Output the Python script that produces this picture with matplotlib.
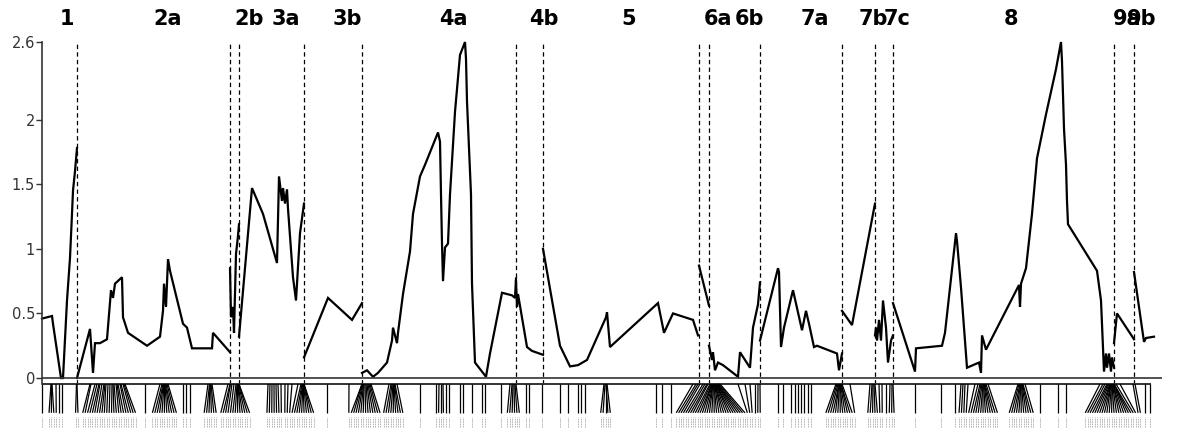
import matplotlib
matplotlib.use("Agg")
import matplotlib.pyplot as plt
from matplotlib.collections import LineCollection
import numpy as np

# linkage groups and their lengths (cM, laid end to end)
chrom_names = ["1", "2a", "2b", "3a", "3b", "4a", "4b", "5", "6a", "6b",
               "7a", "7b", "7c", "8", "9a", "9b"]
chrom_lengths = [35, 153, 9, 65, 58, 154, 27, 156, 10, 51, 82, 33, 18, 221, 20, 21]

# LOD profile per group: (cumulative position, LOD)
lod_1 = [(0, 0.46), (10, 0.48), (11, 0.42), (19, 0.0), (21, 0.0), (25, 0.6),
         (28, 0.93), (30, 1.27), (31, 1.45), (33, 1.6), (35, 1.78)]
lod_2a = [(35, 0.0), (48, 0.38), (51, 0.04), (53, 0.27), (58, 0.27), (65, 0.3),
          (69, 0.68), (71, 0.62), (73, 0.73), (80, 0.78), (81, 0.47), (86, 0.35),
          (105, 0.25), (118, 0.32), (121, 0.52), (122, 0.73), (124, 0.55),
          (126, 0.92), (128, 0.83), (141, 0.42), (145, 0.39), (150, 0.23),
          (170, 0.23), (171, 0.35), (188, 0.2)]
lod_2b = [(188, 0.85), (189, 0.47), (191, 0.55), (192, 0.35), (194, 0.96),
          (196, 1.1), (197, 1.19)]
lod_3a = [(197, 0.32), (210, 1.47), (221, 1.27), (235, 0.89), (237, 1.56),
          (240, 1.37), (241, 1.47), (243, 1.35), (245, 1.46), (246, 1.31),
          (251, 0.78), (254, 0.6), (258, 1.12), (262, 1.35)]
lod_3b = [(262, 0.16), (286, 0.62), (310, 0.45), (320, 0.58)]
lod_4a = [(320, 0.04), (325, 0.06), (331, 0.01), (336, 0.04), (345, 0.12),
          (350, 0.29), (351, 0.39), (355, 0.27), (356, 0.35), (361, 0.65),
          (368, 0.98), (371, 1.27), (378, 1.56), (383, 1.65), (396, 1.9),
          (398, 1.83), (399, 1.42), (400, 1.04), (401, 0.75), (403, 1.01),
          (406, 1.04), (408, 1.42), (413, 2.06), (418, 2.5), (423, 2.6),
          (424, 2.47), (425, 2.14), (427, 1.78), (429, 1.42), (430, 0.73),
          (433, 0.12), (444, 0.01), (448, 0.19), (460, 0.66), (470, 0.64),
          (473, 0.62), (474, 0.77)]
lod_4b = [(474, 0.75), (475, 0.55), (476, 0.65), (485, 0.24), (490, 0.21), (501, 0.18)]
lod_5 = [(501, 1.0), (518, 0.25), (528, 0.09), (536, 0.1), (545, 0.14), (564, 0.47),
         (565, 0.51), (568, 0.24), (616, 0.58), (622, 0.35), (631, 0.5),
         (651, 0.45), (656, 0.33)]
lod_6a = [(657, 0.87), (667, 0.56)]
lod_6b = [(667, 0.25), (670, 0.14), (671, 0.2), (673, 0.06), (676, 0.12),
          (681, 0.1), (696, 0.01), (698, 0.2), (708, 0.08), (711, 0.39),
          (716, 0.57), (718, 0.74)]
lod_7a = [(718, 0.29), (736, 0.85), (737, 0.82), (739, 0.24), (742, 0.39),
          (751, 0.68), (760, 0.37), (764, 0.52), (767, 0.42), (772, 0.24),
          (775, 0.25), (795, 0.19), (797, 0.06), (800, 0.19)]
lod_7b = [(800, 0.52), (810, 0.41), (832, 1.31), (833, 1.35)]
lod_7c = [(833, 0.33), (834, 0.39), (835, 0.29), (837, 0.45), (839, 0.29),
          (841, 0.6), (844, 0.39), (846, 0.12), (849, 0.29), (851, 0.33)]
lod_8 = [(851, 0.58), (873, 0.05), (874, 0.23), (900, 0.25), (903, 0.35),
         (914, 1.12), (915, 1.06), (919, 0.7), (925, 0.08), (937, 0.12),
         (939, 0.04), (940, 0.33), (944, 0.22), (977, 0.72), (978, 0.55),
         (979, 0.73), (984, 0.85), (990, 1.27), (995, 1.7), (1004, 2.04),
         (1014, 2.39), (1019, 2.6), (1020, 2.45), (1021, 2.19), (1022, 1.93),
         (1024, 1.65), (1025, 1.37), (1026, 1.19), (1055, 0.83), (1059, 0.6),
         (1062, 0.05), (1064, 0.19), (1065, 0.08), (1067, 0.19), (1069, 0.05),
         (1070, 0.16), (1072, 0.08)]
lod_9a = [(1072, 0.27), (1075, 0.5), (1092, 0.3)]
lod_9b = [(1092, 0.82), (1102, 0.28), (1104, 0.31), (1112, 0.32)]

# marker positions (cumulative cM)
markers_1 = [0, 9, 9.5, 10, 14, 17, 19.5, 34.5, 35]
markers_2a = [48, 49, 53, 55, 57, 58, 60, 62, 63, 64, 66, 68, 70, 71, 72, 74, 75,
              76, 78, 79, 81, 82, 83, 103, 118, 120, 121, 121.5, 122, 122.5, 123,
              123.5, 124, 125, 126, 141, 144, 148, 166, 167.5, 168, 168.5, 169,
              170, 186, 188]
markers_2b = [188.5, 190, 192, 194, 195, 195.5, 196, 196, 196.5, 197, 197]
markers_3a = [226, 228, 230, 232, 234, 236, 239, 243, 246, 250, 256, 259, 260,
              260.5, 261, 261.2, 261.5, 261.8, 262, 262]
markers_3b = [285, 307]
markers_4a = [320, 320, 320.5, 321, 321.5, 322, 323, 324, 325, 326, 327, 328, 329,
              347, 349, 350, 351, 351.5, 352, 352.5, 353, 355, 378, 394, 397, 399,
              401, 404, 407, 418, 421, 430, 440, 443, 459, 468, 470, 471, 472,
              473, 474]
markers_4b = [484, 487, 500]
markers_5 = [518, 526, 536, 539, 543, 562, 563, 563.5, 564, 565, 614, 620, 629,
             651, 654, 656]
markers_6a = [658, 661, 663, 665, 666]
markers_6b = [668, 669, 670, 670, 670.5, 671, 671, 671.5, 672, 672, 672.5, 673,
              673, 673.5, 674, 674, 674.5, 675, 675.5, 676, 677, 678, 696, 703,
              708, 713, 716, 718]
markers_7a = [736, 741, 749, 753, 756, 759, 762, 766, 769, 794, 795, 796, 797,
              797, 797.5, 798, 798, 798.5, 799, 799, 800]
markers_7b = [808, 828, 830, 831, 832, 833]
markers_7c = [837, 840, 844, 848, 850, 851]
markers_8 = [873, 899, 913, 919, 921, 923, 926, 933, 936, 938, 939, 940, 941, 941,
             941.5, 942, 942.5, 943, 944, 946, 976, 977, 978, 978.5, 979, 979,
             979.5, 980, 980.5, 981, 983, 998, 1016, 1024, 1058, 1061, 1063, 1065,
             1066, 1067, 1068, 1068.5, 1069, 1069, 1069.5, 1070, 1070, 1070.5,
             1071, 1071, 1071.5, 1072, 1072, 1072]
markers_9a = [1074, 1078, 1091]
markers_9b = [1093, 1103, 1108]

yticks = [0, 0.5, 1, 1.5, 2, 2.6]
ytick_labels = ["0", "0.5", "1", "1.5", "2", "2.6"]

curves = [lod_1, lod_2a, lod_2b, lod_3a, lod_3b, lod_4a, lod_4b, lod_5, lod_6a,
          lod_6b, lod_7a, lod_7b, lod_7c, lod_8, lod_9a, lod_9b]
markers = (markers_1 + markers_2a + markers_2b + markers_3a + markers_3b
           + markers_4a + markers_4b + markers_5 + markers_6a + markers_6b
           + markers_7a + markers_7b + markers_7c + markers_8 + markers_9a
           + markers_9b)


def spread(pos, gap, n_iter=800):
    # push label slots apart so they are at least `gap` apart
    lab = np.array(sorted(pos), dtype=float)
    for _ in range(n_iter):
        over = np.clip(gap - np.diff(lab), 0, None) / 2
        lab[:-1] -= over
        lab[1:] += over
    return lab


fig = plt.figure(figsize=(11.79, 4.33), dpi=100)
ax = fig.add_axes([42 / 1179, 49 / 433, 1120 / 1179, 342 / 433])
ax.set_xlim(0, 1120)
y_bot = -0.046
ax.set_ylim(y_bot, 2.6)

for c in curves:
    xs, ys = zip(*c)
    ax.plot(xs, ys, color="black", lw=1.6, solid_joinstyle="miter", clip_on=False)

# chromosome boundaries
bounds = np.cumsum(chrom_lengths)
for b in bounds[:-1]:
    ax.plot([b, b], [y_bot, 2.6], color="black", lw=0.9, dashes=(3.5, 2.6),
            clip_on=False)

ax.hlines(0, 0, 1120, color="#333333", lw=1.2)
ax.hlines(y_bot, 0, bounds[-1] - 4, color="#333333", lw=1.4, clip_on=False)

# marker rug with fanned label slots
m_sorted = np.sort(markers)
slots = spread(m_sorted, 2.4)
y_rug_top, y_rug_bot = y_bot, -0.269
segs = [[(m, y_rug_top), (s, y_rug_bot)] for m, s in zip(m_sorted, slots)]
ax.add_collection(LineCollection(segs, colors="black", linewidths=0.9, clip_on=False))
ax.vlines(slots, -0.378, -0.302, colors="#b5b5b5", lw=0.7, linestyles=(0, (1.6, 0.8)),
          clip_on=False)

# chromosome labels, left-aligned at group centre, kept inside on the right
starts = np.concatenate([[0], bounds[:-1]])
centres = starts + np.array(chrom_lengths) / 2
texts = [ax.text(c, 2.73, n, ha="left", va="baseline", fontsize=15,
                 fontweight="bold", family="DejaVu Sans", clip_on=False)
         for c, n in zip(centres, chrom_names)]
renderer = fig.canvas.get_renderer()
right_limit = 1114
for t in reversed(texts):
    w = t.get_window_extent(renderer).width
    left = min(t.get_position()[0], right_limit - w)
    t.set_x(left)
    right_limit = left + w * 0.5

ax.set_yticks(yticks)
ax.set_yticklabels(ytick_labels)
ax.set_xticks([])
ax.tick_params(axis="y", length=4, width=1, pad=1, labelsize=10.5,
               labelcolor="#333333", color="#333333")
for s in ["top", "right", "bottom"]:
    ax.spines[s].set_visible(False)
ax.spines["left"].set_color("#333333")
ax.spines["left"].set_linewidth(1.2)

plt.savefig("out.png", dpi=100)
